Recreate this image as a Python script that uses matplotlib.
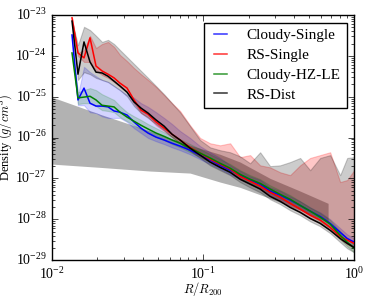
import numpy as np
import matplotlib
matplotlib.use('Agg')
import matplotlib.pyplot as plt

plt.style.use('classic')
plt.rcParams['font.family'] = ['Liberation Serif', 'DejaVu Serif']
plt.rcParams['mathtext.fontset'] = 'cm'

# radius grid R/R200
r = [0.01357, 0.01486, 0.01629, 0.01785, 0.01956, 0.02144, 0.02349, 0.02574,
     0.02821, 0.03139, 0.03492, 0.03885, 0.04322, 0.04884, 0.05517, 0.06233,
     0.07042, 0.08203, 0.09552, 0.1113, 0.1296, 0.1510, 0.1758, 0.2048,
     0.2385, 0.2778, 0.3236, 0.3769, 0.4389, 0.5112, 0.5955, 0.6935, 0.8078,
     0.8987, 1.0]

# log10 density (g/cm^3): median, upper and lower envelopes
cloudy_single = [-23.49, -25.08, -24.79, -25.16, -25.23, -25.23, -25.25, -25.35, -25.38, -25.45,
                 -25.62, -25.77, -25.89, -25.99, -26.06, -26.14, -26.21, -26.31, -26.43, -26.55,
                 -26.68, -26.80, -26.92, -27.04, -27.14, -27.31, -27.41, -27.53, -27.66, -27.80,
                 -27.93, -28.10, -28.32, -28.47, -28.56]
cloudy_single_hi = [-23.49, -24.96, -24.27, -24.40, -24.50, -24.59, -24.64, -24.74, -24.84, -24.96,
                    -25.03, -25.16, -25.25, -25.38, -25.52, -25.67, -25.84, -26.01, -26.21, -26.36,
                    -26.50, -26.68, -26.82, -26.95, -27.04, -27.22, -27.31, -27.44, -27.56, -27.71,
                    -27.83, -28.00, -28.22, -28.37, -28.47]
cloudy_single_lo = [-23.49, -25.21, -25.21, -25.38, -25.40, -25.48, -25.52, -25.52, -25.52, -25.62,
                    -25.77, -25.89, -26.01, -26.09, -26.16, -26.24, -26.31, -26.41, -26.53, -26.65,
                    -26.77, -26.90, -27.02, -27.14, -27.24, -27.41, -27.51, -27.63, -27.75, -27.90,
                    -28.02, -28.20, -28.42, -28.56, -28.66]

rs_single = [-23.07, -23.93, -24.05, -23.56, -24.25, -24.37, -24.45, -24.54, -24.67, -24.79,
             -25.08, -25.33, -25.43, -25.62, -25.77, -25.92, -26.06, -26.24, -26.38, -26.53,
             -26.65, -26.77, -26.95, -27.07, -27.19, -27.34, -27.46, -27.61, -27.75, -27.90,
             -28.02, -28.20, -28.42, -28.51, -28.59]
rs_single_hi = [-23.07, -23.93, -23.86, -23.51, -23.81, -23.71, -23.66, -23.78, -23.98, -24.13,
                -24.30, -24.45, -24.59, -24.76, -24.96, -25.16, -25.35, -25.70, -26.01, -26.14,
                -26.19, -26.14, -26.48, -26.43, -26.68, -26.73, -26.85, -26.92, -26.68, -26.50,
                -26.43, -26.36, -27.09, -27.04, -26.80]
rs_single_lo = [-23.07, -24.00, -24.15, -24.15, -24.35, -24.47, -24.54, -24.64, -24.76, -24.89,
                -25.16, -25.40, -25.50, -25.70, -25.84, -25.99, -26.14, -26.31, -26.46, -26.60,
                -26.73, -26.85, -27.02, -27.14, -27.26, -27.41, -27.53, -27.68, -27.83, -27.98,
                -28.10, -28.27, -28.49, -28.61, -28.71]

cloudy_hz = [-23.93, -25.03, -25.01, -24.99, -25.08, -25.21, -25.23, -25.25, -25.38, -25.50,
             -25.60, -25.70, -25.79, -25.89, -25.97, -26.06, -26.14, -26.26, -26.38, -26.50,
             -26.63, -26.75, -26.90, -27.02, -27.12, -27.26, -27.39, -27.51, -27.66, -27.80,
             -27.95, -28.12, -28.39, -28.56, -28.71]
cloudy_hz_hi = [-23.93, -24.89, -24.84, -24.79, -24.84, -24.94, -25.01, -25.08, -25.23, -25.38,
                -25.48, -25.57, -25.67, -25.77, -25.87, -25.97, -26.04, -26.16, -26.28, -26.41,
                -26.53, -26.65, -26.80, -26.92, -27.02, -27.17, -27.29, -27.41, -27.56, -27.71,
                -27.85, -28.02, -28.29, -28.47, -28.61]
cloudy_hz_lo = [-23.93, -25.18, -25.16, -25.16, -25.23, -25.33, -25.35, -25.38, -25.50, -25.60,
                -25.70, -25.79, -25.89, -25.99, -26.06, -26.16, -26.24, -26.36, -26.48, -26.60,
                -26.73, -26.85, -27.00, -27.12, -27.22, -27.36, -27.49, -27.61, -27.75, -27.90,
                -28.05, -28.22, -28.49, -28.66, -28.81]

rs_dist = [-23.15, -24.45, -23.66, -24.15, -24.40, -24.42, -24.50, -24.62, -24.74, -24.89,
           -25.13, -25.28, -25.40, -25.57, -25.72, -25.92, -26.06, -26.26, -26.43, -26.60,
           -26.73, -26.85, -27.02, -27.14, -27.26, -27.44, -27.56, -27.71, -27.83, -27.98,
           -28.10, -28.27, -28.47, -28.59, -28.69]
rs_dist_hi = [-23.15, -23.74, -23.29, -23.37, -23.51, -23.66, -23.61, -23.71, -23.86, -24.03,
              -24.20, -24.37, -24.54, -24.74, -24.94, -25.16, -25.38, -25.72, -26.06, -26.24,
              -26.31, -26.36, -26.46, -26.63, -26.36, -26.70, -26.68, -26.60, -26.50, -26.80,
              -26.50, -26.43, -26.92, -26.50, -26.48]
rs_dist_lo = [-23.15, -24.59, -24.40, -24.45, -24.54, -24.59, -24.64, -24.74, -24.84, -24.99,
              -25.23, -25.40, -25.52, -25.67, -25.82, -25.99, -26.14, -26.33, -26.50, -26.68,
              -26.80, -26.92, -27.09, -27.22, -27.34, -27.51, -27.63, -27.78, -27.90, -28.05,
              -28.17, -28.34, -28.56, -28.71, -28.81]

# observational constraint band
r_obs = [0.01, 0.0208, 0.0446, 0.0820, 0.1296, 0.1758, 0.2778, 0.4389, 0.672]
obs_hi = [-25.01, -25.43, -25.84, -26.19, -26.41, -26.60, -27.00, -27.31, -27.61]
obs_lo = [-26.65, -26.73, -26.82, -26.87, -27.09, -27.22, -27.49, -27.78, -28.07]

series = [
    ('Cloudy-Single', cloudy_single, cloudy_single_hi, cloudy_single_lo, 'b', 0.17),
    ('RS-Single', rs_single, rs_single_hi, rs_single_lo, 'r', 0.22),
    ('Cloudy-HZ-LE', cloudy_hz, cloudy_hz_hi, cloudy_hz_lo, 'g', 0.17),
    ('RS-Dist', rs_dist, rs_dist_hi, rs_dist_lo, 'k', 0.2),
]

fig = plt.figure(figsize=(3.74, 2.99), dpi=100, facecolor='white')
ax = fig.add_axes([0.139, 0.130, 0.808, 0.820])

ax.fill_between(r_obs, 10**np.array(obs_lo), 10**np.array(obs_hi),
                color='gray', alpha=0.6, linewidth=0, zorder=1)

for name, mid, hi, lo, c, a in series:
    ax.fill_between(r, 10**np.array(lo), 10**np.array(hi), color=c,
                    alpha=a, linewidth=0.8, zorder=2)

for name, mid, hi, lo, c, a in series:
    ax.plot(r, 10**np.array(mid), color=c, lw=1.1, label=name, zorder=3)

ax.set_xscale('log')
ax.set_yscale('log')
ax.set_xlim(1e-2, 1)
ax.set_ylim(1e-29, 1e-23)
ax.tick_params(labelsize=10)
ax.set_xlabel('$R/R_{200}$', fontsize=9, labelpad=-1)
ax.set_ylabel('Density $(g/cm^3)$', fontsize=9, labelpad=1)

leg = ax.legend(loc='upper right', fontsize=11, handlelength=1.4,
                handletextpad=1.0, borderaxespad=0.5, labelspacing=0.4,
                fancybox=False)
leg.get_frame().set_edgecolor('k')
for h in leg.get_lines():
    h.set_alpha(0.8)

fig.savefig('out.png', dpi=100, facecolor='white')
